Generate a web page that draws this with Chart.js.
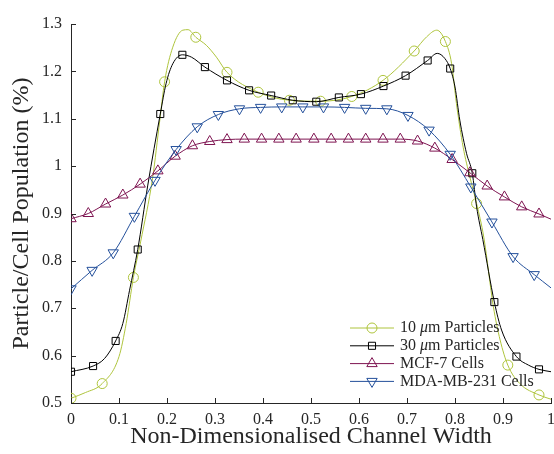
<!DOCTYPE html>
<html>
<head>
<meta charset="utf-8">
<script src="https://cdn.jsdelivr.net/npm/chart.js@4.4.0/dist/chart.umd.min.js"></script>
<style>
  html, body { margin: 0; padding: 0; background: #fff; }
</style>
</head>
<body>
<canvas id="myChart" width="554" height="454"></canvas>
<script>
// series names
const names = ['10 μm Particles', '30 μm Particles', 'MCF-7 Cells', 'MDA-MB-231 Cells'];

// 10 um particles: marker points and extra points along the curve
const tenMarkX = [0, 0.065, 0.13, 0.195, 0.26, 0.325, 0.39, 0.455, 0.52, 0.585, 0.65, 0.715, 0.78, 0.845, 0.91, 0.975];
const tenMarkY = [0.510, 0.541, 0.765, 1.178, 1.272, 1.198, 1.156, 1.139, 1.137, 1.147, 1.181, 1.243, 1.263, 0.921, 0.580, 0.517];
const tenLineX = [0.03, 0.10, 0.115, 0.145, 0.17, 0.185, 0.212, 0.233, 0.244, 0.282, 0.303, 0.741, 0.762, 0.793, 0.803, 0.817, 0.831, 0.86, 0.88, 0.894, 0.935, 1.0];
const tenLineY = [0.522, 0.598, 0.668, 0.84, 0.975, 1.097, 1.251, 1.287, 1.288, 1.255, 1.23, 1.273, 1.287, 1.216, 1.132, 1.04, 0.977, 0.85, 0.703, 0.633, 0.541, 0.508];

// 30 um particles
const thirtyMarkX = [0, 0.046, 0.093, 0.139, 0.186, 0.232, 0.279, 0.325, 0.371, 0.417, 0.462, 0.511, 0.558, 0.604, 0.651, 0.697, 0.743, 0.790, 0.836, 0.882, 0.928, 0.975];
const thirtyMarkY = [0.566, 0.578, 0.631, 0.824, 1.110, 1.235, 1.209, 1.181, 1.160, 1.149, 1.139, 1.136, 1.145, 1.152, 1.169, 1.191, 1.223, 1.206, 0.985, 0.713, 0.598, 0.571];
const thirtyLineX = [0.07, 0.108, 0.122, 0.16, 0.198, 0.212, 0.251, 0.763, 0.779, 0.80, 0.81, 0.824, 0.845, 0.858, 0.897, 0.953, 1.0];
const thirtyLineY = [0.594, 0.668, 0.738, 0.96, 1.174, 1.216, 1.230, 1.238, 1.227, 1.167, 1.097, 1.027, 0.914, 0.845, 0.654, 0.580, 0.566];

// MCF-7 cells
const mcfMarkX = [0, 0.036, 0.072, 0.108, 0.144, 0.181, 0.217, 0.253, 0.289, 0.325, 0.361, 0.397, 0.433, 0.469, 0.506, 0.542, 0.578, 0.614, 0.650, 0.686, 0.722, 0.758, 0.794, 0.831, 0.867, 0.903, 0.939, 0.975];
const mcfMarkY = [0.889, 0.900, 0.920, 0.939, 0.962, 0.990, 1.021, 1.043, 1.052, 1.056, 1.057, 1.057, 1.057, 1.057, 1.057, 1.057, 1.057, 1.057, 1.057, 1.057, 1.053, 1.038, 1.014, 0.986, 0.958, 0.935, 0.914, 0.899];
const mcfLineX = [1.0];
const mcfLineY = [0.888];

// MDA-MB-231 cells
const mdaMarkX = [0, 0.044, 0.088, 0.132, 0.175, 0.219, 0.263, 0.307, 0.351, 0.395, 0.439, 0.483, 0.526, 0.570, 0.614, 0.658, 0.702, 0.746, 0.790, 0.833, 0.877, 0.921, 0.965];
const mdaMarkY = [0.741, 0.780, 0.817, 0.894, 0.970, 1.035, 1.083, 1.109, 1.121, 1.124, 1.125, 1.125, 1.125, 1.124, 1.122, 1.121, 1.107, 1.076, 1.025, 0.956, 0.882, 0.809, 0.771];
const mdaLineX = [1.0];
const mdaLineY = [0.743];

const colors = ['#AEC43C', '#000000', '#7E1451', '#24509B'];
const styles = ['circle', 'rect', 'triangle', 'triangle'];
const rotations = [0, 0, 0, 180];
const radii = [5, 5, 6, 6];
const axisColor = '#262626';
const serif = '"Liberation Serif", "Times New Roman", serif';

function curve(mx, my, lx, ly) {
  const pts = mx.map((v, i) => ({ x: v, y: my[i], m: true }))
    .concat(lx.map((v, i) => ({ x: v, y: ly[i], m: false })));
  return pts.sort((a, b) => a.x - b.x);
}

const series = [
  curve(tenMarkX, tenMarkY, tenLineX, tenLineY),
  curve(thirtyMarkX, thirtyMarkY, thirtyLineX, thirtyLineY),
  curve(mcfMarkX, mcfMarkY, mcfLineX, mcfLineY),
  curve(mdaMarkX, mdaMarkY, mdaLineX, mdaLineY)
];

function marker(ctx, style, rot, r, x, y) {
  ctx.beginPath();
  if (style === 'circle') {
    ctx.arc(x, y, r, 0, Math.PI * 2);
  } else if (style === 'rect') {
    const s = r * Math.SQRT1_2;
    ctx.rect(x - s, y - s, 2 * s, 2 * s);
  } else {
    const d = rot === 180 ? -1 : 1;
    ctx.moveTo(x, y - d * r);
    ctx.lineTo(x - r * 0.866, y + d * r / 2);
    ctx.lineTo(x + r * 0.866, y + d * r / 2);
    ctx.closePath();
  }
  ctx.stroke();
}

const frame = {
  id: 'frame',
  afterDraw(chart) {
    const { ctx, chartArea: a, scales: { x, y } } = chart;
    ctx.save();
    ctx.strokeStyle = axisColor;
    ctx.lineWidth = 1;
    ctx.beginPath();
    x.ticks.forEach(t => {
      const px = Math.round(x.getPixelForValue(t.value)) + 0.5;
      ctx.moveTo(px, a.bottom);
      ctx.lineTo(px, a.bottom - 5);
    });
    y.ticks.forEach(t => {
      const py = Math.round(y.getPixelForValue(t.value)) + 0.5;
      ctx.moveTo(a.left, py);
      ctx.lineTo(a.left + 5, py);
    });
    ctx.stroke();

    // legend: line with marker, then label
    ctx.textBaseline = 'middle';
    names.forEach((name, i) => {
      const ry = 328 + i * 17.8;
      ctx.strokeStyle = colors[i];
      ctx.beginPath();
      ctx.moveTo(350, ry);
      ctx.lineTo(394, ry);
      ctx.stroke();
      marker(ctx, styles[i], rotations[i], radii[i], 372, ry);
      ctx.fillStyle = axisColor;
      let tx = 400;
      const parts = name.split('μ');
      parts.forEach((p, k) => {
        ctx.font = '16px ' + serif;
        ctx.fillText(p, tx, ry);
        tx += ctx.measureText(p).width;
        if (k < parts.length - 1) {
          ctx.font = 'italic 16px ' + serif;
          ctx.fillText('μ', tx, ry);
          tx += ctx.measureText('μ').width;
        }
      });
    });
    ctx.restore();
  }
};

const tickLabel = v => String(+Number(v).toFixed(1));

const ctx = document.getElementById('myChart');

new Chart(ctx, {
  type: 'line',
  data: {
    datasets: series.map((pts, i) => ({
      label: names[i],
      data: pts,
      borderColor: colors[i],
      borderWidth: 1,
      backgroundColor: 'rgba(0,0,0,0)',
      fill: false,
      cubicInterpolationMode: 'monotone',
      pointStyle: styles[i],
      pointRotation: rotations[i],
      pointRadius: c => (c.raw && c.raw.m ? radii[i] : 0),
      pointHoverRadius: c => (c.raw && c.raw.m ? radii[i] : 0),
      pointBorderColor: colors[i],
      pointBackgroundColor: 'rgba(0,0,0,0)',
      pointBorderWidth: 1,
      order: 3 - i
    }))
  },
  options: {
    responsive: false,
    animation: false,
    layout: { autoPadding: false, padding: { left: 0, right: 3, top: 24, bottom: 0 } },
    plugins: {
      legend: { display: false },
      tooltip: { enabled: false }
    },
    scales: {
      x: {
        type: 'linear',
        min: 0,
        max: 1,
        grid: { display: false, drawTicks: false },
        border: { display: true, color: axisColor, width: 1 },
        ticks: { stepSize: 0.1, padding: 7, color: axisColor, font: { family: serif, size: 16 }, callback: tickLabel },
        title: {
          display: true,
          text: 'Non-Dimensionalised Channel Width',
          color: axisColor,
          font: { family: serif, size: 24 },
          padding: { top: 0, bottom: 3 }
        },
        afterFit: s => { s.height = 51; s.paddingRight = 0; s.paddingLeft = 0; }
      },
      y: {
        min: 0.5,
        max: 1.3,
        grid: { display: false, drawTicks: false },
        border: { display: true, color: axisColor, width: 1 },
        ticks: { stepSize: 0.1, padding: 9, color: axisColor, font: { family: serif, size: 16 }, callback: tickLabel },
        title: {
          display: true,
          text: 'Particle/Cell Population (%)',
          color: axisColor,
          font: { family: serif, size: 24 },
          padding: { top: 7, bottom: 0 }
        },
        afterFit: s => { s.width = 71; s.paddingTop = 0; s.paddingBottom = 0; }
      }
    }
  },
  plugins: [frame]
});
</script>
</body>
</html>
